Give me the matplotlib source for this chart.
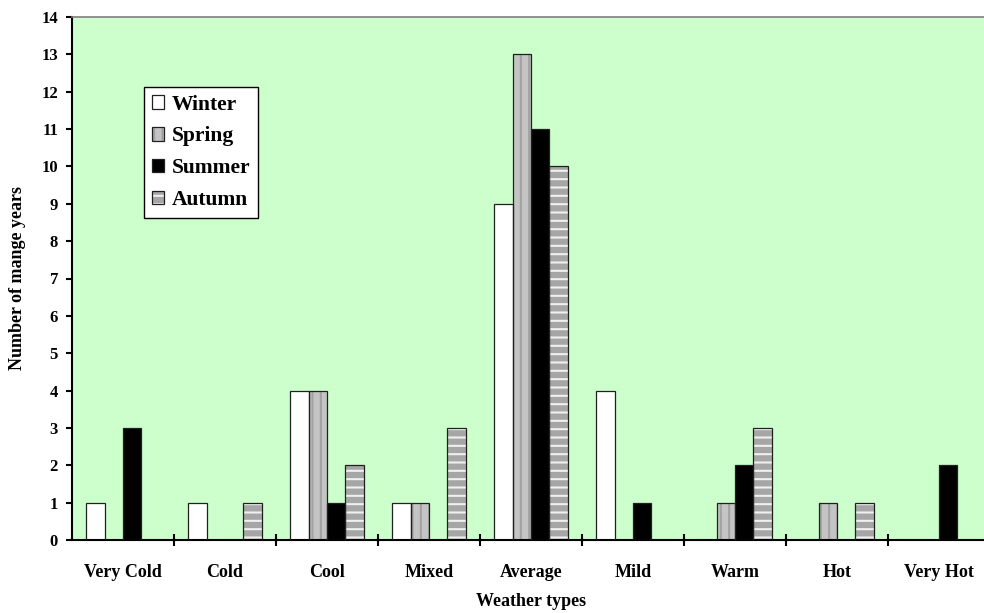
import matplotlib
matplotlib.use("Agg")
import matplotlib.pyplot as plt
import numpy as np

# количество лет по типам погоды и сезонам
types = ["Very Cold", "Cold", "Cool", "Mixed", "Average", "Mild", "Warm", "Hot", "Very Hot"]
winter = [1, 1, 4, 1, 9, 4, 0, 0, 0]
spring = [0, 0, 4, 1, 13, 0, 1, 1, 0]
summer = [3, 0, 1, 0, 11, 1, 2, 0, 2]
autumn = [0, 1, 2, 3, 10, 0, 3, 1, 0]

plt.rcParams['font.family'] = ['Liberation Serif', 'DejaVu Serif']
plt.rcParams['font.weight'] = 'bold'
plt.rcParams['hatch.linewidth'] = 1.5

fig = plt.figure(figsize=(9.84, 6.13), dpi=100)
ax = fig.add_axes([72 / 984, 1 - 540 / 613, 918 / 984, 523 / 613])
ax.set_facecolor('#ccffcc')

x = np.arange(len(types))
w = 0.18
series = [
    ("Winter", winter, 'white', 'white', ''),
    ("Spring", spring, '#c4c4c4', '#a2a2a2', '||'),
    ("Summer", summer, 'black', 'black', ''),
    ("Autumn", autumn, '#a6a6a6', '#f0f0f0', '--'),
]
handles = []
for k, (name, vals, fc, hc, hatch) in enumerate(series):
    pos = x + (k - 1.5) * w
    b1 = ax.bar(pos, vals, w, facecolor=fc, edgecolor=hc, hatch=hatch, linewidth=0, zorder=2)
    b2 = ax.bar(pos, vals, w, fill=False, edgecolor='#202020', linewidth=0.9, zorder=3)
    handles.append((b1[0], b2[0]))

ax.set_xlim(-0.5, 8.5)
ax.set_ylim(0, 14)
ax.set_yticks(range(0, 15))
ax.tick_params(axis='y', direction='out', length=4, width=1.5, pad=6, labelsize=12)

# деления между категориями, подписи по центрам
ax.set_xticks(np.arange(0.5, 8.5, 1.0))
ax.set_xticklabels([])
ax.tick_params(axis='x', which='major', direction='inout', length=8, width=1.5)
ax.set_xticks(x, minor=True)
ax.set_xticklabels(types, minor=True)
ax.tick_params(axis='x', which='minor', length=0, pad=17, labelsize=13)

for s in ['left', 'bottom']:
    ax.spines[s].set_linewidth(1.5)
    ax.spines[s].set_color('black')
for s in ['top', 'right']:
    ax.spines[s].set_linewidth(1.2)
    ax.spines[s].set_color('#808080')

ax.set_xlabel('Weather types', fontsize=13, fontweight='bold', labelpad=9)
ax.set_ylabel('Number of mange years', fontsize=13, fontweight='bold', labelpad=11)

leg = ax.legend(handles, [s[0] for s in series], loc='upper left',
                bbox_to_anchor=(144 / 984, 1 - 87 / 613), bbox_transform=fig.transFigure,
                borderaxespad=0, fancybox=False, framealpha=1, edgecolor='black',
                prop={'family': 'Liberation Serif', 'weight': 'bold', 'size': 15.5},
                handlelength=0.6, handleheight=0.6, handletextpad=0.35,
                labelspacing=0.55, borderpad=0.35)
leg.get_frame().set_linewidth(1.0)

fig.savefig('out.png', dpi=100)
